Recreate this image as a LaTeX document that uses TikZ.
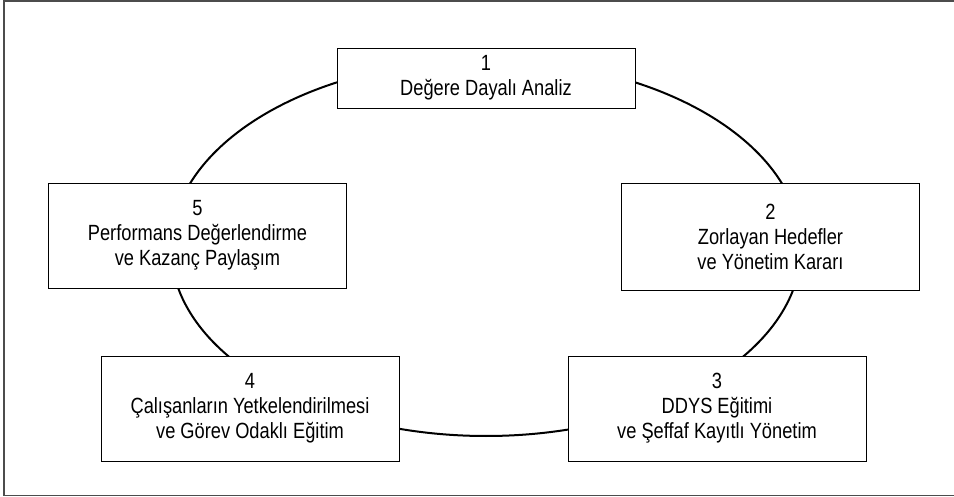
\documentclass[tikz,border=0pt]{standalone}
\usepackage{fontspec}
\setmainfont[FakeStretch=0.83]{Liberation Sans}
\begin{document}
\begin{tikzpicture}[x=1pt,y=-1pt,
  stagebox/.style={draw=black, line width=0.9pt, fill=white, align=center,
    inner sep=0pt, minimum width=298pt,
    font=\fontsize{22}{25}\selectfont},
  cycleline/.style={draw=black, line width=2pt},
  framestyle/.style={draw=black!70, line width=1.6pt}]
\useasboundingbox (0,0) rectangle (954,497);
\draw[framestyle] (956,1) -- (4,1) -- (4,495.5) -- (956,495.5);
\draw[cycleline] (486,248) ellipse [x radius=315, y radius=188];
\node[stagebox, minimum height=60pt] (s1) at (486,78) {1\\Değere Dayalı Analiz};
\node[stagebox, minimum height=107pt] (s2) at (770.5,236.5) {2\\Zorlayan Hedefler\\ve Yönetim Kararı};
\node[stagebox, minimum height=105pt] (s3) at (717,408.5) {3\\DDYS Eğitimi\\ve Şeffaf Kayıtlı Yönetim};
\node[stagebox, minimum height=105pt] (s4) at (250,408.5) {4\\Çalışanların Yetkelendirilmesi\\ve Görev Odaklı Eğitim};
\node[stagebox, minimum height=105pt] (s5) at (197.5,235.5) {5\\Performans Değerlendirme\\ve Kazanç Paylaşım};
\end{tikzpicture}
\end{document}
